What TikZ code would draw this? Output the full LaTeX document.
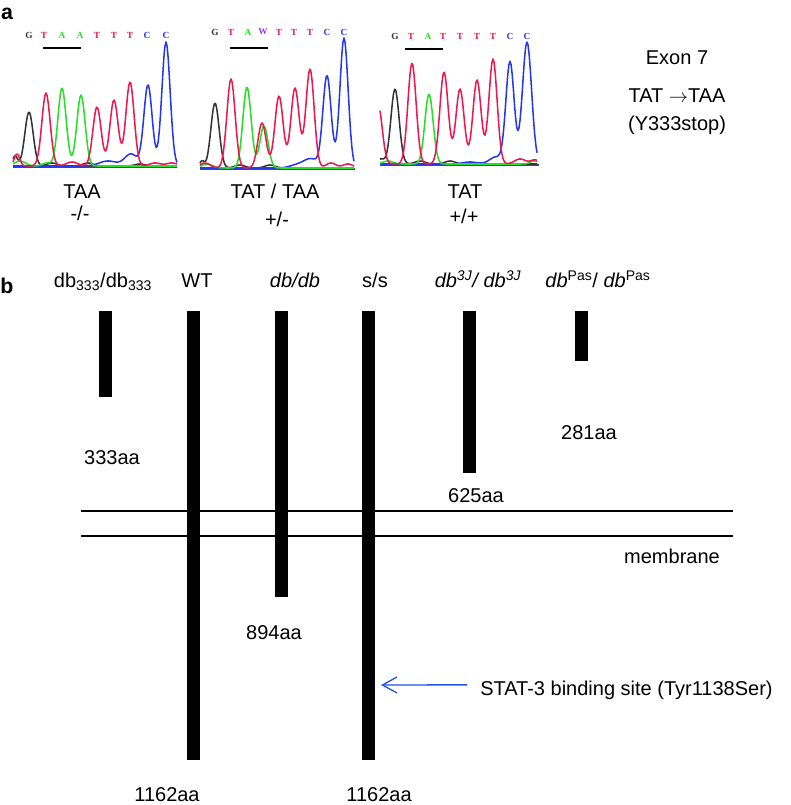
\documentclass[tikz,border=0pt]{standalone}
\usepackage{fontspec}
\setmainfont{Liberation Sans}
\newfontfamily\nucfont{Liberation Serif}
\usetikzlibrary{fit,arrows.meta}
\definecolor{tred}{RGB}{236,24,80}
\definecolor{tgreen}{RGB}{40,222,40}
\definecolor{tblue}{RGB}{38,56,236}
\definecolor{tblack}{RGB}{52,52,52}
\definecolor{tpurple}{RGB}{150,60,220}
\definecolor{siteblue}{RGB}{36,84,232}
\begin{document}
\begin{tikzpicture}
        [
            x=0.75pt, y=-0.75pt,
            lab/.style={font=\fontsize{15}{18}\selectfont, anchor=base, inner sep=0pt},
            panel/.style={font=\fontsize{16}{19}\selectfont\bfseries, anchor=base, inner sep=0pt},
            nuc/.style={font=\nucfont\bfseries\fontsize{7}{8}\selectfont, inner sep=0pt},
            chrom/.style={line width=1.15pt, line join=round},
            axisline/.style={draw=black!70, line width=1.2pt},
            bar/.style={fill=black, inner sep=0pt},
            membrane/.style={line width=1.3pt},
            sitearrow/.style={draw=siteblue, line width=1pt, -{Straight Barb[length=11pt, width=12pt]}},
            declare function={pk(\u,\m,\h,\w)=\h*exp(-min(((\u-\m)/10)^2/\w,12));}
        ]
        \useasboundingbox (0,0) rectangle (790,805);
        % a
        \node[panel] (pa) at (7,20) {a};
        % TAA -/-
        \draw[axisline] (13,167) -- (177,167);
        \draw[chrom, tblack] plot[domain=13:177, samples=150] (\x,{166-pk(\x,29,54,.34)-pk(\x,15,10,.12)-pk(\x,52,3,.5)-pk(\x,88,3,.5)-pk(\x,140,2,.5)});
        \draw[chrom, tblue] plot[domain=13:177, samples=150] (\x,{166-pk(\x,148,81,.34)-pk(\x,166,124,.34)-pk(\x,108,5,1.5)-pk(\x,131,12,.8)});
        \draw[chrom, tgreen] plot[domain=13:177, samples=150] (\x,{166-pk(\x,62,78,.34)-pk(\x,81,71,.34)-pk(\x,20,5,.6)-pk(\x,47,3,.4)});
        \draw[chrom, tred] plot[domain=13:177, samples=150] (\x,{166-pk(\x,46,73,.34)-pk(\x,97,59,.34)-pk(\x,114,66,.34)-pk(\x,130,84,.34)-pk(\x,17,12,.15)-pk(\x,72,4,.6)-pk(\x,155,3,.6)-pk(\x,172,3,.6)});
        \foreach \lx/\lt/\lc in {29/G/tblack, 44/T/tred, 62/A/tgreen, 80/A/tgreen, 97/T/tred, 114/T/tred, 130/T/tred, 147/C/tblue, 166/C/tblue}
            \node[nuc, text=\lc] (sa-\lx) at (\lx,35) {\lt};
        \draw[line width=1.5pt] (43,48) -- (81,48);
        \node[lab] (gaa) at (82,199) {TAA};
        \node[lab] (zaa) at (80,221) {-/-};
        % TAT / TAA +/-
        \draw[axisline] (200,169) -- (355,169);
        \draw[chrom, tblack] plot[domain=200:354, samples=140] (\x,{168-pk(\x,215,65,.34)-pk(\x,202,7,.1)-pk(\x,240,3,.5)-pk(\x,270,3,.5)});
        \draw[chrom, tblue] plot[domain=200:354, samples=140] (\x,{168-pk(\x,327,92,.34)-pk(\x,344,130,.34)-pk(\x,311,9,1)-pk(\x,297,3,1)});
        \draw[chrom, tgreen] plot[domain=200:354, samples=140] (\x,{168-pk(\x,247,81,.34)-pk(\x,264,42,.34)-pk(\x,207,4,.6)});
        \draw[chrom, tred] plot[domain=200:354, samples=140] (\x,{168-pk(\x,231,89,.34)-pk(\x,262,45,.34)-pk(\x,279,72,.34)-pk(\x,295,80,.34)-pk(\x,310,99,.34)-pk(\x,205,5,.5)-pk(\x,331,5,.5)-pk(\x,348,4,.5)});
        \foreach \lx/\lt/\lc in {215/G/tblack, 231/T/tred, 248/A/tgreen, 263/W/tpurple, 279/T/tred, 294/T/tred, 310/T/tred, 327/C/tblue, 344/C/tblue}
            \node[nuc, text=\lc] (sb-\lx) at (\lx,32) {\lt};
        \draw[line width=1.5pt] (230,48) -- (268,48);
        \node[lab] (gab) at (275,199) {TAT / TAA};
        \node[lab] (zab) at (277,227) {+/-};
        % TAT +/+
        \draw[axisline] (380,165) -- (539,165);
        \draw[chrom, tblack] plot[domain=380:537, samples=140] (\x,{164-pk(\x,395,75,.34)-pk(\x,381,5,.2)-pk(\x,420,3,.5)-pk(\x,450,3,.5)});
        \draw[chrom, tblue] plot[domain=380:537, samples=140] (\x,{164-pk(\x,510,102,.34)-pk(\x,527,122,.42)-pk(\x,496,7,.8)-pk(\x,470,2,1)});
        \draw[chrom, tgreen] plot[domain=380:537, samples=140] (\x,{164-pk(\x,429,70,.34)-pk(\x,388,3,.5)-pk(\x,534,3,.3)});
        \draw[chrom, tred] plot[domain=380:537, samples=140] (\x,{164-pk(\x,378,60,.34)-pk(\x,412,101,.34)-pk(\x,444,92,.34)-pk(\x,460,75,.34)-pk(\x,477,84,.34)-pk(\x,493,105,.34)-pk(\x,520,5,.6)-pk(\x,535,4,.4)});
        \foreach \lx/\lt/\lc in {395/G/tblack, 411/T/tred, 428/A/tgreen, 443/T/tred, 460/T/tred, 477/T/tred, 493/T/tred, 510/C/tblue, 527/C/tblue}
            \node[nuc, text=\lc] (sc-\lx) at (\lx,36) {\lt};
        \draw[line width=1.5pt] (405,49) -- (443,49);
        \node[lab] (gac) at (465,199) {TAT};
        \node[lab] (zac) at (464,224) {+/+};
        % mutation
        \node[lab] (exon) at (677,65) {Exon 7};
        \node[lab] (codon) at (677,103) {TAT $\rightarrow$TAA};
        \node[lab] (stop) at (677,131) {(Y333stop)};
        % b
        \node[panel] (pb) at (7,293) {b};
        \node[lab] (h333) at (103,287) {db\textsubscript{333}/db\textsubscript{333}};
        \node[lab] (hwt) at (197,287) {WT};
        \node[lab] (hdb) at (295,287) {\textit{db/db}};
        \node[lab] (hss) at (375,287) {s/s};
        \node[lab] (h3j) at (478,287) {\textit{db\textsuperscript{3J}/ db\textsuperscript{3J}}};
        \node[lab] (hpas) at (598,287) {\textit{db}\textsuperscript{Pas}/ \textit{db}\textsuperscript{Pas}};
        % receptors
        \node[bar, fit={(99,311) (112,397)}] (b333) {};
        \node[bar, fit={(187,311) (200,760)}] (wt) {};
        \node[bar, fit={(275,311) (288,597)}] (dbdb) {};
        \node[bar, fit={(362,311) (375,760)}] (ss) {};
        \node[bar, fit={(463,311) (476,473)}] (db3j) {};
        \node[bar, fit={(575,311) (588,361)}] (dbpas) {};
        \node[lab] (l333) at (112,464) {333aa};
        \node[lab] (l281) at (589,439) {281aa};
        \node[lab] (l625) at (476,502) {625aa};
        \node[lab] (l894) at (274,639) {894aa};
        \node[lab] (lwt) at (167,801) {1162aa};
        \node[lab] (lss) at (379,801) {1162aa};
        % membrane
        \draw[membrane] (81,511) -- (733,511);
        \draw[membrane] (81,536) -- (733,536);
        \node[lab] (mem) at (672,563) {membrane};
        % STAT-3
        \node[lab, anchor=base west] (stat) at (480,695) {STAT-3 binding site (Tyr1138Ser)};
        \coordinate (site) at (381,685);
        \draw[sitearrow] ([shift={(-13,-5)}]stat.west) -- (site);
    \end{tikzpicture}
\end{document}
